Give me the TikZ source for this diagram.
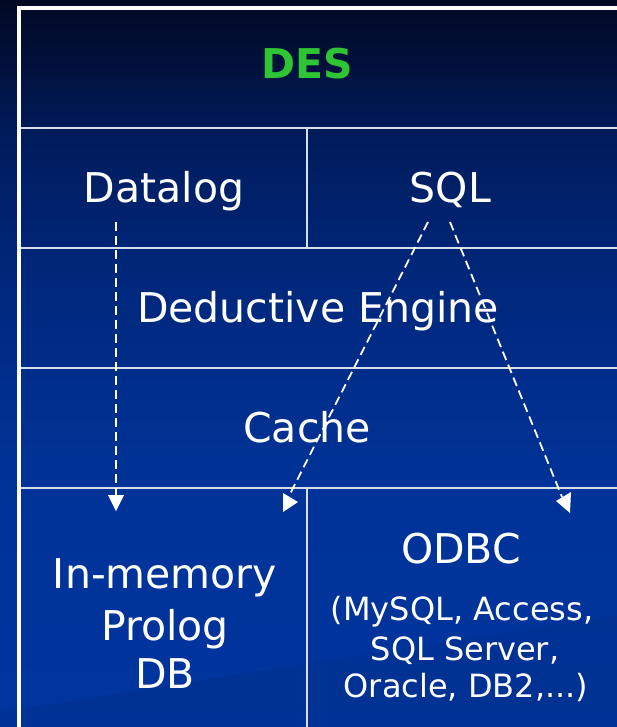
\documentclass[tikz,border=0pt]{standalone}
\usepackage{fontspec}
\setmainfont{DejaVu Sans}
\usetikzlibrary{calc}

\definecolor{bgA}{RGB}{2,9,36}
\definecolor{bgA2}{RGB}{1,17,60}
\definecolor{bgB}{RGB}{0,27,90}
\definecolor{bgC}{RGB}{0,37,118}
\definecolor{bgD}{RGB}{0,45,138}
\definecolor{bgE}{RGB}{0,51,152}
\definecolor{bgF}{RGB}{0,53,158}
\definecolor{desgreen}{RGB}{46,196,52}
\definecolor{gridline}{RGB}{215,222,236}

% vertical background shading; TikZ maps 25bp..75bp onto the filled box
\pgfdeclareverticalshading{slidebg}{100bp}{%
  color(0bp)=(bgF); color(25bp)=(bgF); color(41.3bp)=(bgE); color(49.5bp)=(bgD);
  color(57.8bp)=(bgC); color(66bp)=(bgB); color(70.5bp)=(bgA2); color(75bp)=(bgA);
  color(100bp)=(bgA)}

\tikzset{
  big/.style={font=\fontsize{41}{51}\selectfont, text=white, inner sep=0pt, anchor=base},
  small/.style={font=\fontsize{32}{38}\selectfont, text=white, inner sep=0pt, anchor=base},
  frame/.style={draw=white, line width=4pt},
  divider/.style={draw=gridline, line width=2.2pt},
  flow/.style={draw=white, line width=1.8pt, dash pattern=on 9pt off 5pt},
  tip/.style={fill=white, draw=none}
}

\begin{document}
\begin{tikzpicture}[x=1pt, y=-1pt]
  % page and background
  \useasboundingbox (0,0) rectangle (617,727);
  \shade[shading=slidebg] (0,0) rectangle (617,727);
  \fill[black, opacity=0.05] (0,712) -- (617,615) -- (617,727) -- (0,727) -- cycle;

  % table grid
  \draw[divider] (20,128) -- (617,128);
  \draw[divider] (20,248) -- (617,248);
  \draw[divider] (20,368) -- (617,368);
  \draw[divider] (20,488) -- (617,488);
  \draw[divider] (307,128) -- (307,248);
  \draw[divider] (307,488) -- (307,727);
  \draw[frame] (19,727) -- (19,8) -- (617,8);

  % layer labels
  \node[big, font=\fontsize{41}{51}\selectfont\bfseries, text=desgreen] (des) at (307.5,79) {DES};
  \node[big] (datalog) at (164,203) {Datalog};
  \node[big] (sql) at (450.5,203) {SQL};
  \node[big] (engine) at (318,322) {Deductive Engine};
  \node[big] (cache) at (307,442) {Cache};
  \node[big] (inmem) at (165,588) {In-memory};
  \node[big] (prolog) at (165,640) {Prolog};
  \node[big] (db) at (165,688) {DB};
  \node[big] (odbc) at (461,563) {ODBC};
  \node[small] (odbcA) at (462,620) {(MySQL, Access,};
  \node[small] (odbcB) at (465,660) {SQL Server,};
  \node[small] (odbcC) at (466,697) {Oracle, DB2,...)};

  % data flow connectors
  \coordinate (dlStart) at (116,222);
  \coordinate (dlEnd) at (116,497);
  \coordinate (sqlStartL) at (428,222);
  \coordinate (sqlEndL) at (289,496);
  \coordinate (sqlStartR) at (450,222);
  \coordinate (sqlEndR) at (562,497);

  \draw[flow] (dlStart) -- (dlEnd);
  \draw[flow] (sqlStartL) -- (sqlEndL);
  \draw[flow] (sqlStartR) -- (sqlEndR);

  % arrow heads
  \fill[tip] (108,495) -- (124,495) -- (116,511) -- cycle;
  \fill[tip] (283,493) -- (283,512) -- (298,502) -- cycle;
  \fill[tip] (556,501) -- (571,492) -- (570,513) -- cycle;
\end{tikzpicture}
\end{document}
